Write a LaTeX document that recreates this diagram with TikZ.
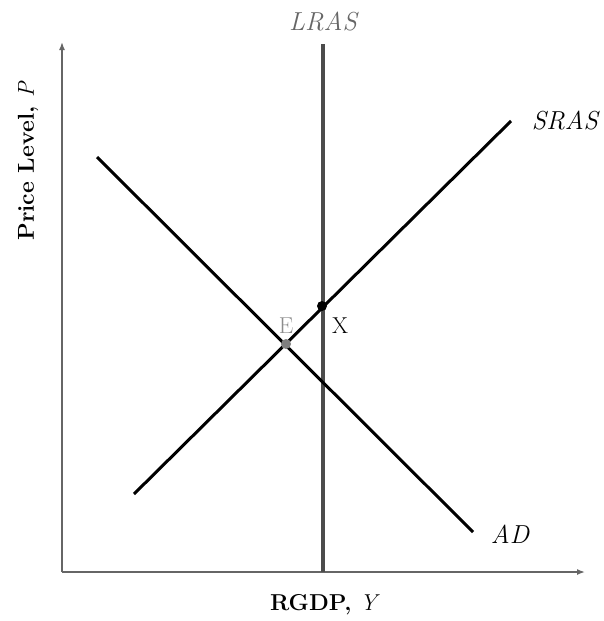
\documentclass[tikz,border=0pt]{standalone}
\usepackage{fontspec}
\usetikzlibrary{arrows.meta}
\begin{document}
\begin{tikzpicture}[x=1pt,y=-1pt,
  axis/.style={draw=black!60,line width=1.5pt,-{Latex[length=8pt,width=6pt]}},
  curve/.style={draw=black,line width=3pt},
  lras/.style={draw=black!70,line width=4pt},
  lbl/.style={font=\fontsize{26}{30}\selectfont\itshape},
  axlbl/.style={font=\fontsize{23}{27}\selectfont\bfseries},
  ptlbl/.style={font=\fontsize{23}{26}\selectfont}]
\useasboundingbox (0,0) rectangle (603,621);
\coordinate (O) at (62,572);
\coordinate (ytop) at (62,42);
\coordinate (xend) at (585,572);
\draw[axis] (O) -- (ytop);
\draw[axis] (O) -- (xend);
\coordinate (l1) at (323,44);
\coordinate (l2) at (323,572);
\draw[lras] (l1) -- (l2);
\coordinate (s1) at (134,494);
\coordinate (s2) at (511,121);
\draw[curve] (s1) -- (s2);
\coordinate (a1) at (97,157);
\coordinate (a2) at (473,532);
\draw[curve] (a1) -- (a2);
\node[lbl,text=black!60] (lraslbl) at (323,21) {LRAS};
\node[lbl] (sraslbl) at (565,120) {SRAS};
\node[lbl] (adlbl) at (510,534) {AD};
\fill[black!50] (286,344) circle (5pt) node (E) {};
\node[ptlbl,text=black!45] (Elbl) at (286,326) {E};
\fill[black] (322,306) circle (5pt) node (X) {};
\node[ptlbl] (Xlbl) at (340,326) {X};
\node[axlbl,rotate=90] (ylbl) at (28,161) {Price Level, \textit{\mdseries P}};
\node[axlbl] (xlbl) at (325,605) {RGDP, \textit{\mdseries Y}};
\end{tikzpicture}
\end{document}
